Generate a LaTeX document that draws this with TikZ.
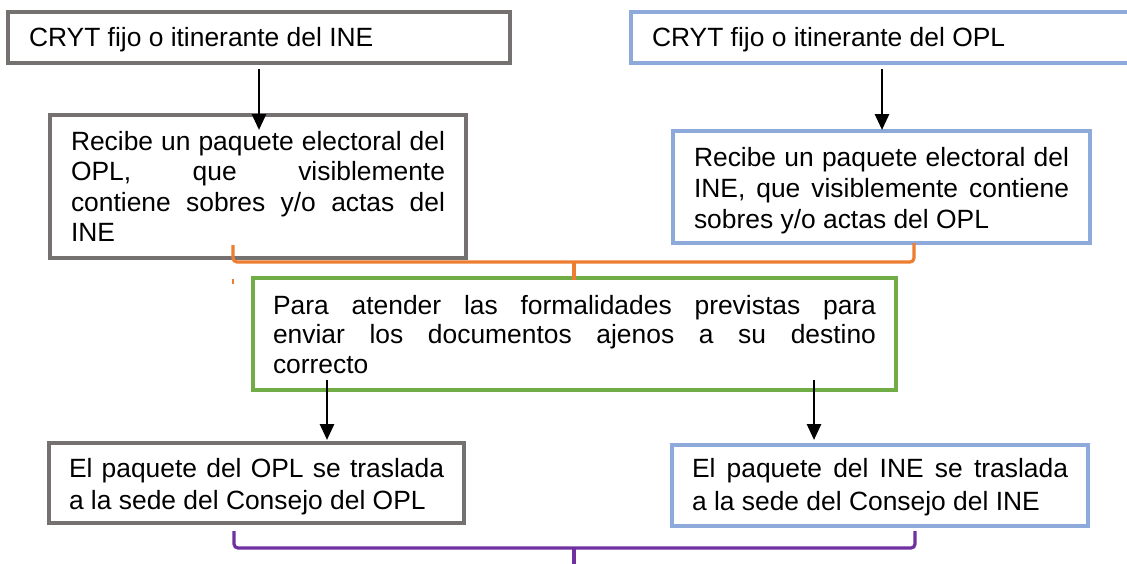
\documentclass[tikz,border=0pt]{standalone}
\usepackage{fontspec}
\setmainfont{Liberation Sans}
\usetikzlibrary{arrows.meta}
\definecolor{boxgray}{HTML}{767171}
\definecolor{boxblue}{HTML}{8EAADB}
\definecolor{boxgreen}{HTML}{70AD47}
\definecolor{braceorange}{HTML}{ED7D31}
\definecolor{bracepurple}{HTML}{7030A0}
\begin{document}
\begin{tikzpicture}[x=0.5pt,y=-0.5pt,
  box/.style={draw, line width=1.6pt, fill=white, anchor=north west,
    inner ysep=0pt, outer sep=0pt, text height=9.45pt, align=justify},
  graybox/.style={box, draw=boxgray},
  bluebox/.style={box, draw=boxblue},
  greenbox/.style={box, draw=boxgreen},
  fnt/.style={font=\fontsize{13.2pt}{#1}\selectfont},
  arr/.style={-{Triangle[length=8pt,width=7pt]}, line width=1.4pt},
  brace/.style={line width=1.6pt, rounded corners=2pt}]
\useasboundingbox (0,0) rectangle (1127,563);
\clip (0,0) rectangle (1127,563);

% top row
\node[graybox, fnt=15.3pt, minimum width=251pt, minimum height=25.5pt,
  inner xsep=10.5pt, text width=230pt, text depth=0pt] (A) at (8,12)
  {CRYT fijo o itinerante del INE};
\node[bluebox, fnt=15.3pt, minimum width=260pt, minimum height=25.5pt,
  inner xsep=10.5pt, text width=239pt, text depth=0pt] (C) at (631,12)
  {CRYT fijo o itinerante del OPL};

% second row
\node[graybox, fnt=15.33pt, minimum width=208pt, minimum height=71.5pt,
  inner xsep=10.5pt, text width=187pt, text depth=45.95pt] (B) at (50,115)
  {Recibe un paquete electoral del\linebreak OPL, que visiblemente\linebreak contiene sobres y/o actas del\linebreak INE};
\node[bluebox, fnt=15.5pt, minimum width=208.5pt, minimum height=56pt,
  inner xsep=10.5pt, text width=187.5pt, text depth=30.45pt] (D) at (673,131)
  {Recibe un paquete electoral del\linebreak INE, que visiblemente contiene\linebreak sobres y/o actas del OPL};

% middle
\node[greenbox, fnt=14.75pt, minimum width=321.5pt, minimum height=56pt,
  inner xsep=10pt, text width=301.5pt, text depth=29.45pt] (E) at (253,278)
  {Para atender las formalidades previstas para\linebreak enviar los documentos ajenos a su destino\linebreak correcto};

% bottom row
\node[graybox, fnt=16pt, minimum width=207.5pt, minimum height=40pt,
  inner xsep=10pt, text width=187.5pt, text depth=15.45pt] (F) at (49,443)
  {El paquete del OPL se traslada\linebreak a la sede del Consejo del OPL};
\node[bluebox, fnt=16.5pt, minimum width=208pt, minimum height=40.5pt,
  inner xsep=10pt, text width=188pt, text depth=17.95pt] (G) at (672,445)
  {El paquete del INE se traslada\linebreak a la sede del Consejo del INE};

% arrow end points
\coordinate (a1s) at (259,69);  \coordinate (a1e) at (259,130);
\coordinate (a2s) at (882,69);  \coordinate (a2e) at (882,130);
\coordinate (a3s) at (327,380); \coordinate (a3e) at (327,440);
\coordinate (a4s) at (814,380); \coordinate (a4e) at (814,440);
\draw[arr] (a1s) -- (a1e);
\draw[arr] (a2s) -- (a2e);
\draw[arr] (a3s) -- (a3e);
\draw[arr] (a4s) -- (a4e);

% orange brace
\coordinate (ol) at (233,245);
\coordinate (or) at (914,243);
\coordinate (om) at (574,262);
\coordinate (ot) at (574,280);
\draw[brace, draw=braceorange] (ol) |- (om) -| (or);
\draw[brace, draw=braceorange] (om) -- (ot);
\coordinate (tk1) at (233,279);
\coordinate (tk2) at (233,284);
\draw[braceorange, line width=0.8pt] (tk1) -- (tk2);

% purple brace
\coordinate (pl) at (234,531);
\coordinate (pr) at (915,531);
\coordinate (pm) at (574,548);
\coordinate (pt) at (574,565);
\draw[brace, draw=bracepurple] (pl) |- (pm) -| (pr);
\draw[brace, draw=bracepurple] (pm) -- (pt);
\end{tikzpicture}
\end{document}
